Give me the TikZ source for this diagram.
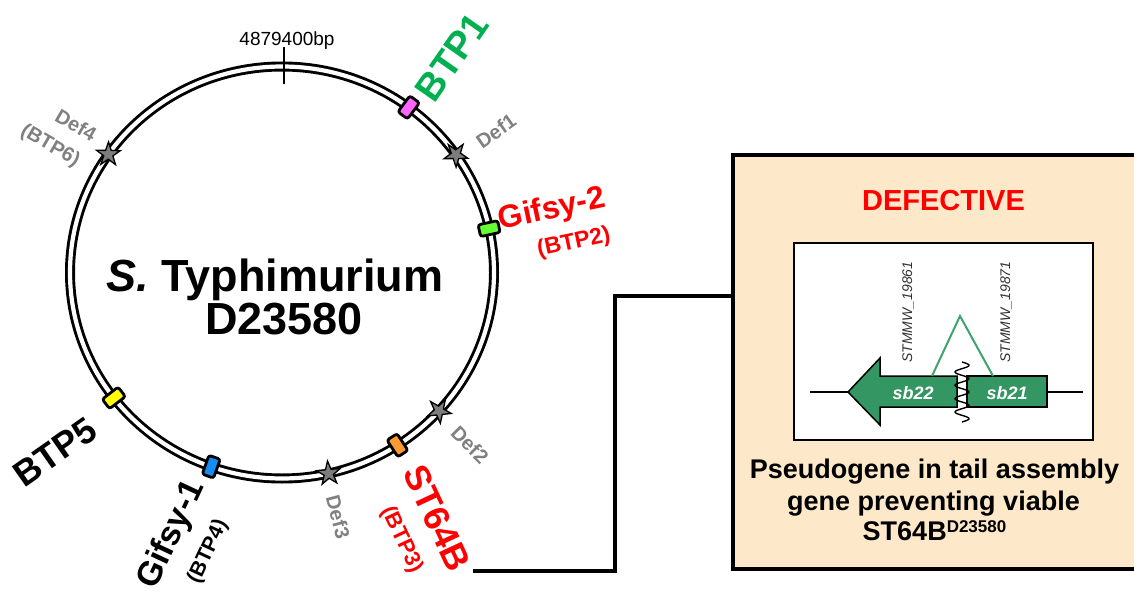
\documentclass[tikz,border=0pt]{standalone}
\usepackage{fontspec}
\setmainfont{Liberation Sans}
\usetikzlibrary{shapes.geometric,calc}

\definecolor{btpgreen}{RGB}{0,176,80}
\definecolor{phred}{RGB}{255,0,0}
\definecolor{defgray}{RGB}{128,128,128}
\definecolor{mkpink}{RGB}{255,102,255}
\definecolor{mkgreen}{RGB}{102,255,51}
\definecolor{mkorange}{RGB}{255,153,51}
\definecolor{mkblue}{RGB}{20,140,240}
\definecolor{mkyellow}{RGB}{255,255,0}
\definecolor{peach}{RGB}{253,233,201}
\definecolor{genegreen}{RGB}{52,150,98}
\definecolor{insgreen}{RGB}{60,165,110}
\definecolor{tagtext}{RGB}{50,50,50}
\definecolor{starfill}{RGB}{125,125,125}

\newcommand\setfs[1]{\fontsize{#1}{#1}\selectfont}

\tikzset{
  marker/.style={draw=black, line width=2.8pt, rounded corners=2.5pt,
    minimum width=20pt, minimum height=12pt, inner sep=0pt},
  defstar/.style={star, star points=5, star point ratio=2.6, minimum size=25pt,
    inner sep=0pt, fill=starfill, draw=black, line width=1.3pt},
  lab/.style={font=\bfseries, inner sep=0pt},
  deflab/.style={lab, text=defgray},
  genelab/.style={font=\setfs{18}\bfseries\itshape, text=white, inner sep=0pt},
  tag/.style={font=\setfs{14}\itshape, text=tagtext, inner sep=0pt, rotate=90},
  caption/.style={font=\setfs{27}\bfseries, inner sep=0pt, anchor=base},
}

\begin{document}
\begin{tikzpicture}[x=1pt,y=-1pt]
\useasboundingbox (0,0) rectangle (1134,604);

% chromosome ring
\coordinate (c) at (282,272.5);
\draw[line width=10pt] (c) ellipse [x radius=212, y radius=206];
\draw[white, line width=4.2pt] (c) ellipse [x radius=212, y radius=206];

% origin tick
\coordinate (ticktop) at (284,47);
\coordinate (tickbot) at (284,84);
\draw[line width=2.5pt] (ticktop) -- (tickbot);
\node[inner sep=0pt, anchor=base, font=\setfs{19}] (origin) at (287,46) {4879400bp};

% genome title
\node[lab, anchor=base, font=\setfs{45}\bfseries] (title1) at (275,291) {\textit{S.} Typhimurium};
\node[lab, anchor=base, font=\setfs{45}\bfseries] (title2) at (284,334) {D23580};

% defective prophage stars
\node[defstar, rotate=-35] (def1) at ($(c)+(-34.9:212 and 206)$) {};
\node[defstar, rotate=42] (def2) at ($(c)+(42.2:212 and 206)$) {};
\node[defstar, rotate=77] (def3) at ($(c)+(77.3:212 and 206)$) {};
\node[defstar, rotate=-145] (def4) at ($(c)+(-145:212 and 206)$) {};

% prophage markers
\node[marker, fill=mkpink, rotate=53.3] (m1) at ($(c)+(-53.3:212 and 206)$) {};
\node[marker, fill=mkgreen, rotate=12.3] (m2) at ($(c)+(-12.3:212 and 206)$) {};
\node[marker, fill=mkorange, rotate=-57] (m3) at ($(c)+(57:212 and 206)$) {};
\node[marker, fill=mkblue, rotate=-109.5] (m4) at ($(c)+(109.5:212 and 206)$) {};
\node[marker, fill=mkyellow, rotate=-142.5] (m5) at ($(c)+(142.5:212 and 206)$) {};

% prophage labels
\node[lab, text=btpgreen, font=\setfs{38}\bfseries, rotate=55] (l1) at (452,57) {BTP1};
\node[deflab, font=\setfs{20}\bfseries, rotate=35] (d1) at (496,131) {Def1};
\node[lab, text=phred, font=\setfs{32}\bfseries, rotate=12] (l2) at (552,210) {Gifsy-2};
\node[lab, text=phred, font=\setfs{23}\bfseries, rotate=12] (l2b) at (574,243) {(BTP2)};
\node[deflab, font=\setfs{20}\bfseries, rotate=-45] (d2) at (470,445) {Def2};
\node[lab, text=phred, font=\setfs{36}\bfseries, rotate=-65] (l3) at (437,518) {ST64B};
\node[lab, text=phred, font=\setfs{22}\bfseries, rotate=-65] (l3b) at (402,540) {(BTP3)};
\node[deflab, font=\setfs{20}\bfseries, rotate=-75] (d3) at (338,517) {Def3};
\node[lab, font=\setfs{34}\bfseries, rotate=65] (l4) at (172,535) {Gifsy-1};
\node[lab, font=\setfs{21}\bfseries, rotate=65] (l4b) at (208,552) {(BTP4)};
\node[lab, font=\setfs{36}\bfseries, rotate=35] (l5) at (55,452) {BTP5};
\node[deflab, font=\setfs{20}\bfseries, rotate=-30] (d4) at (76,125) {Def4};
\node[deflab, font=\setfs{20}\bfseries, rotate=-30] (d4b) at (50,146) {(BTP6)};

% detail panel
\node[draw=black, fill=peach, line width=4pt, minimum width=412pt, minimum height=414pt,
      inner sep=0pt] (panel) at (939,362) {};
\node[lab, text=phred, anchor=base, font=\setfs{29}\bfseries] (defective) at (943.5,210) {DEFECTIVE};
\node[draw=black, fill=white, line width=2pt, minimum width=299pt, minimum height=197pt,
      inner sep=0pt] (genebox) at (943.5,341.5) {};

% connector from ST64B to the panel
\coordinate (st64end) at (473,571);
\coordinate (panelin) at (733,296);
\draw[line width=4pt] (st64end) -- ++(142,0) |- (panelin);

% gene map
\coordinate (lineL) at (810,392);
\coordinate (tip) at (848,392);
\coordinate (lineR) at (1083,392);
\coordinate (sbend) at (1047,392);
\draw[line width=2pt] (lineL) -- (tip);
\draw[line width=2pt] (sbend) -- (lineR);
\draw[fill=genegreen, draw=black, line width=1.5pt]
  (tip) -- (880,358) -- (880,376) -- (957,376) -- (957,407) -- (880,407) -- (880,425) -- cycle;
\draw[fill=genegreen, draw=black, line width=1.5pt] (967,376) rectangle (sbend |- 0,407);
\node[genelab] (sb22) at (913,393) {sb22};
\node[genelab] (sb21) at (1007,393) {sb21};
\draw[line width=1.4pt] plot[domain=0:60, samples=100, smooth] ({962+7*sin(\x*27)},{362+\x});
\coordinate (insL) at (932,376);
\coordinate (insTop) at (960,316);
\coordinate (insR) at (993,376);
\draw[insgreen, line width=2pt] (insL) -- (insTop) -- (insR);
\node[tag] (tag1) at (908,312) {STMMW\_19861};
\node[tag] (tag2) at (1006,312) {STMMW\_19871};

% caption
\node[caption] (cap1) at (934.5,478) {Pseudogene in tail assembly};
\node[caption] (cap2) at (933.5,510) {gene preventing viable};
\node[caption] (cap3) at (934.5,540) {ST64B\raisebox{8pt}{\setfs{17}D23580}};
\end{tikzpicture}
\end{document}
